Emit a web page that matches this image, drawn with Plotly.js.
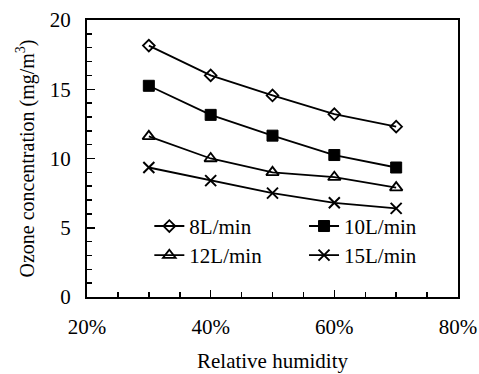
<!DOCTYPE html>
<html><head><meta charset="utf-8">
<script src="https://cdn.plot.ly/plotly-3.0.1.min.js"></script>
<style>body{margin:0;padding:0;background:#fff}#chart{width:479px;height:374px}</style>
</head><body><div id="chart"></div>
<script>
const humidity = [30, 40, 50, 60, 70];
const flow8 = [18.15, 16.0, 14.55, 13.2, 12.3];
const flow10 = [15.25, 13.15, 11.65, 10.25, 9.35];
const flow12 = [11.6, 10.0, 9.0, 8.65, 7.9];
const flow15 = [9.35, 8.4, 7.5, 6.8, 6.4];
const seriesNames = ['8L/min', '10L/min', '12L/min', '15L/min'];
const xTickVals = [20, 40, 60, 80];
const xTickText = ['20%', '40%', '60%', '80%'];

const font = "'Times New Roman', 'Liberation Serif', serif";
const markers = [
  {symbol: 'diamond-open', size: 9, color: '#000', line: {width: 1.8, color: '#000'}},
  {symbol: 'square', size: 11, color: '#000', line: {width: 1, color: '#000'}},
  {symbol: 'triangle-up-open', size: 11, color: '#000', line: {width: 1.8, color: '#000'}},
  {symbol: 'x-thin-open', size: 11, color: '#000', line: {width: 2, color: '#000'}}
];
const legendIds = ['legend', 'legend2', 'legend3', 'legend4'];
const legendPos = [[0.168, 0.329], [0.585, 0.329], [0.168, 0.224], [0.585, 0.224]];
const ys = [flow8, flow10, flow12, flow15];
const traces = ys.map((y, i) => ({
  x: humidity, y: y, name: seriesNames[i], type: 'scatter', mode: 'lines+markers',
  line: {color: '#000', width: 1.8}, marker: markers[i], cliponaxis: false,
  legend: legendIds[i]
}));

const layout = {
  width: 479, height: 374,
  margin: {l: 87, r: 21, t: 20, b: 77},
  paper_bgcolor: '#fff', plot_bgcolor: '#fff',
  font: {family: font, size: 21, color: '#000'},
  showlegend: true,
  xaxis: {
    range: [20, 80], tickvals: xTickVals, ticktext: xTickText,
    ticks: 'inside', ticklen: 7, tickwidth: 1.5, tickcolor: '#000',
    minor: {dtick: 5, ticks: 'inside', ticklen: 5, tickwidth: 1.5, tickcolor: '#000'},
    showline: true, linewidth: 2, linecolor: '#000', mirror: true,
    showgrid: false, zeroline: false,
    tickfont: {family: font, size: 21}, ticklabelstandoff: 10,
    title: {text: 'Relative humidity', font: {family: font, size: 21}, standoff: 15}
  },
  yaxis: {
    range: [0, 20], dtick: 5,
    ticks: 'inside', ticklen: 8, tickwidth: 1.5, tickcolor: '#000',
    minor: {dtick: 1, ticks: 'inside', ticklen: 5, tickwidth: 1.5, tickcolor: '#000'},
    showline: true, linewidth: 2, linecolor: '#000', mirror: true,
    showgrid: false, zeroline: false,
    tickfont: {family: font, size: 21}, ticklabelstandoff: 10,
    title: {text: 'Ozone concentration (mg/m<sup>3</sup>)', font: {family: font, size: 20}, standoff: 10}
  }
};
legendIds.forEach((id, i) => {
  layout[id] = {
    x: legendPos[i][0], y: legendPos[i][1], xanchor: 'left', yanchor: 'top',
    bgcolor: 'rgba(0,0,0,0)', font: {family: font, size: 21, color: '#000'}
  };
});
Plotly.newPlot('chart', traces, layout, {displayModeBar: false, staticPlot: true});
</script></body></html>
